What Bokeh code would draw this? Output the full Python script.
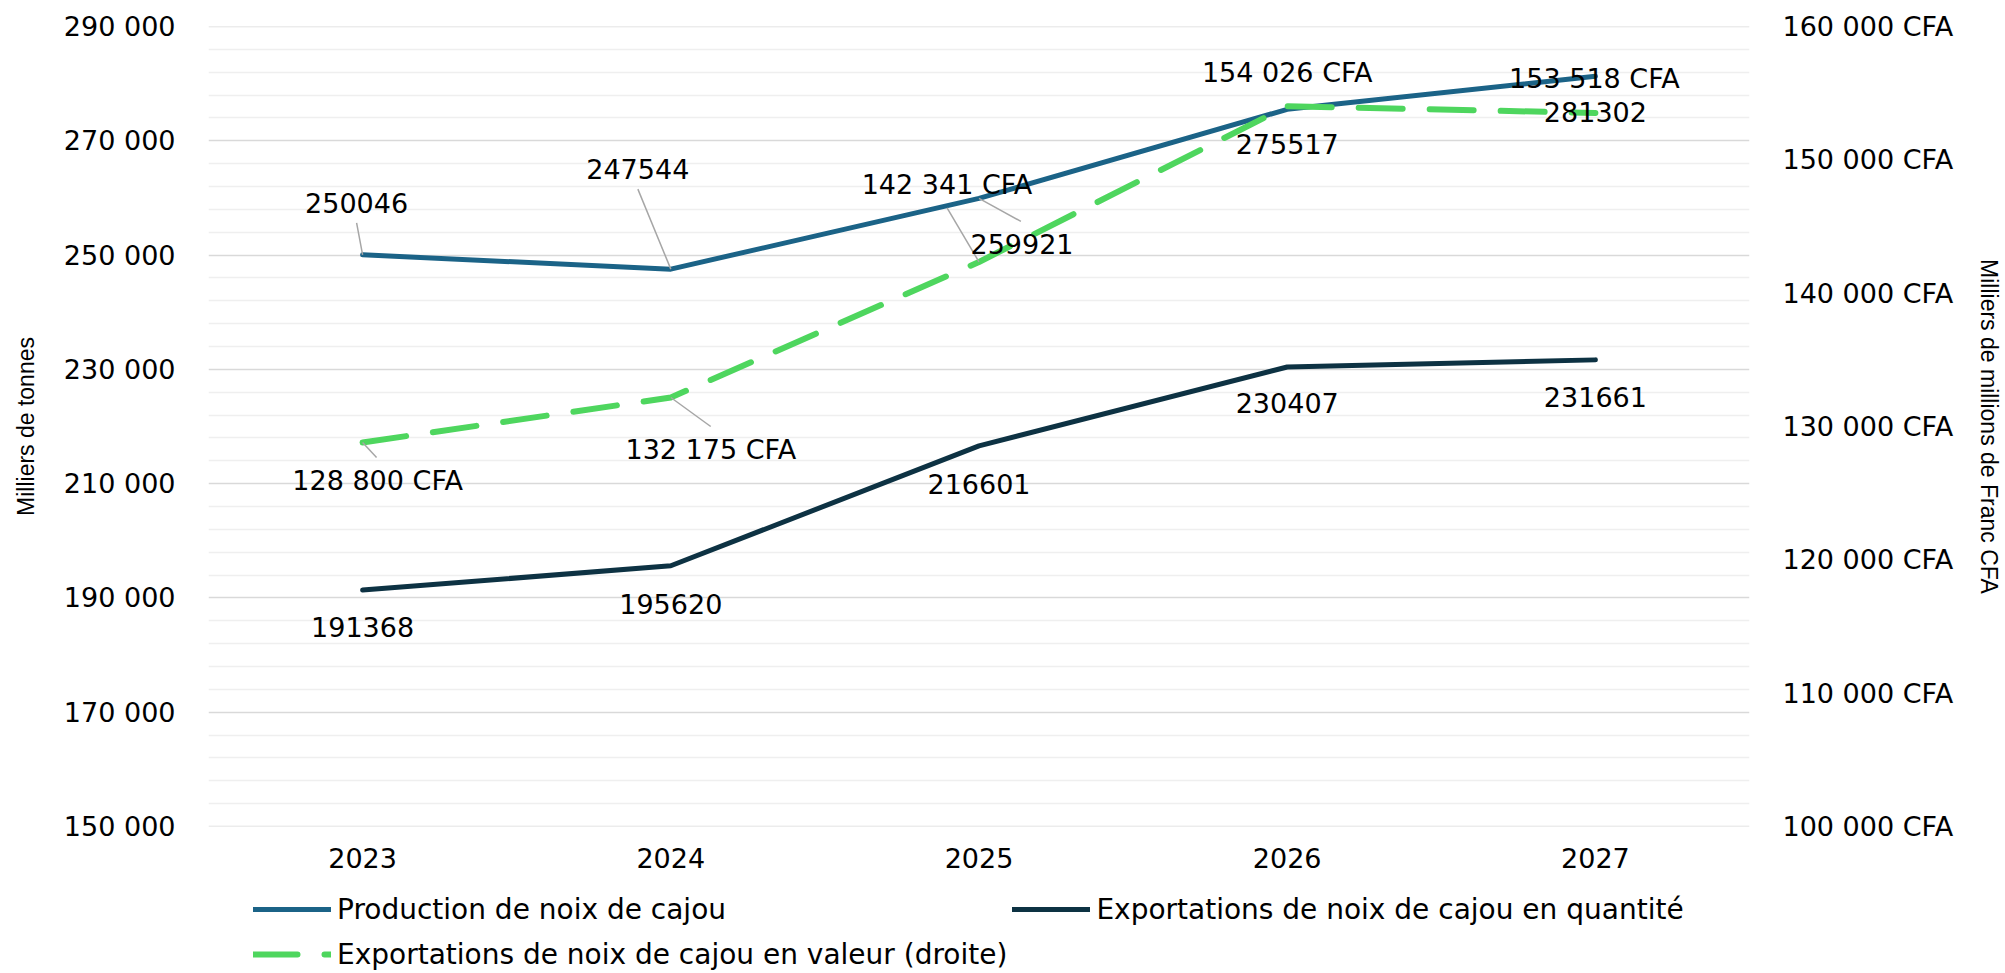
import math
from bokeh.plotting import figure
from bokeh.layouts import column
from bokeh.models import (Range1d, LinearAxis, FixedTicker, ColumnDataSource,
                          Legend, LegendItem)
from bokeh.embed import file_html
from bokeh.resources import INLINE
from bokeh.core.properties import value

# ---------------- data ----------------
years = ["2023", "2024", "2025", "2026", "2027"]
production = [250046, 247544, 259921, 275517, 281302]
export_qty = [191368, 195620, 216601, 230407, 231661]
export_val = [128800, 132175, 142341, 154026, 153518]

left_ticks = [150000, 170000, 190000, 210000, 230000, 250000, 270000, 290000]
left_tick_labels = ["150 000", "170 000", "190 000", "210 000", "230 000",
                    "250 000", "270 000", "290 000"]
right_ticks = [100000, 110000, 120000, 130000, 140000, 150000, 160000]
right_tick_labels = ["100 000 CFA", "110 000 CFA", "120 000 CFA", "130 000 CFA",
                     "140 000 CFA", "150 000 CFA", "160 000 CFA"]

series_names = ["Production de noix de cajou",
                "Exportations de noix de cajou en quantité",
                "Exportations de noix de cajou en valeur (droite)"]
left_title = "Milliers de tonnes"
right_title = "Milliers de millions de Franc CFA"

# ---------------- styles / layout ----------------
W = 2005
H_CHART, H_LEG = 886, 87
MB_L, MB_R, MB_T, MB_B = 208, 253, 26, 60
FRAME_W = W - MB_L - MB_R
FRAME_H = H_CHART - MB_T - MB_B
X_LO, X_HI = -0.5, 4.5
PAD = 10
YL_LO, YL_HI = 150000 - PAD, 290000 + PAD
YR_LO, YR_HI = 100000, 160000

C_PROD = "#1B6387"
C_QTY = "#0D3243"
C_VAL = "#4ED65E"
FONT = "DejaVu Sans"
DASH = "44 27"

# label pixel offsets (screen, +y = down)
prod_off = [(-6, -52), (-33, -100), (43, 46), (0, 35), (0, 36)]
qty_off = [(0, 37), (0, 38), (0, 38), (0, 36), (0, 37)]
val_off = [(15, 38), (40, 52), (-32, -77), (0, -34), (-1, -34)]
# leader line end offsets (pixels from point), None = no leader
prod_lead = [(-6, -32), (-33, -80), (42, 23), None, None]
val_lead = [(14, 15), (40, 29), (-32, -54), None, None]

idx = list(range(len(years)))

p = figure(width=W, height=H_CHART, x_range=Range1d(X_LO, X_HI),
           y_range=Range1d(YL_LO, YL_HI), output_backend="svg",
           toolbar_location=None, min_border_left=MB_L, min_border_right=MB_R,
           min_border_top=MB_T, min_border_bottom=MB_B)
p.outline_line_color = None
p.background_fill_color = "white"
p.border_fill_color = "white"
p.xgrid.visible = False

minor = [v for v in range(150000, 290001, 4000) if v not in left_ticks]
p.ygrid[0].ticker = FixedTicker(ticks=left_ticks, minor_ticks=minor)
p.ygrid.grid_line_color = "#d9d9d9"
p.ygrid.grid_line_width = 1.6
p.ygrid.minor_grid_line_color = "#efefef"
p.ygrid.minor_grid_line_width = 1.6

def style_axis(ax, standoff):
    ax.axis_line_color = None
    ax.major_tick_line_color = None
    ax.minor_tick_line_color = None
    ax.major_tick_out = 0
    ax.major_tick_in = 0
    ax.minor_tick_out = 0
    ax.minor_tick_in = 0
    ax.major_label_standoff = standoff
    ax.major_label_text_font = FONT
    ax.major_label_text_font_size = "27px"
    ax.major_label_text_color = "#000000"
    ax.axis_label_text_font = "Liberation Sans"
    ax.axis_label_text_font_size = "23px"
    ax.axis_label_text_font_style = "normal"
    ax.axis_label_text_color = "#000000"

yax = p.yaxis[0]
yax.ticker = FixedTicker(ticks=left_ticks)
yax.major_label_overrides = {t: l for t, l in zip(left_ticks, left_tick_labels)}
style_axis(yax, 33)
yax.axis_label = left_title
yax.axis_label_standoff = 22

xax = p.xaxis[0]
xax.ticker = FixedTicker(ticks=idx)
xax.major_label_overrides = {i: y for i, y in zip(idx, years)}
style_axis(xax, 21)

p.extra_y_ranges = {"right": Range1d(YR_LO, YR_HI)}
rax = LinearAxis(y_range_name="right", ticker=FixedTicker(ticks=right_ticks),
                 major_label_overrides={t: l for t, l in zip(right_ticks, right_tick_labels)})
style_axis(rax, 33)
rax.axis_label = right_title
rax.axis_label_standoff = 20
p.add_layout(rax, "right")

# ---------------- lines ----------------
line_styles = [dict(line_color=C_PROD, line_width=5),
               dict(line_color=C_QTY, line_width=5),
               dict(line_color=C_VAL, line_width=6, line_dash=DASH)]
r1 = p.line(idx, production, line_cap="round", line_join="round", **line_styles[0])
r2 = p.line(idx, export_qty, line_cap="round", line_join="round", **line_styles[1])
r3 = p.line(idx, export_val, line_cap="round", line_join="round",
            y_range_name="right", **line_styles[2])

# ---------------- leader lines ----------------
px_x = (X_HI - X_LO) / FRAME_W
px_yl = (YL_HI - YL_LO) / FRAME_H
px_yr = (YR_HI - YR_LO) / FRAME_H

def leaders(vals, leads, pxy, range_name):
    x0, y0, x1, y1 = [], [], [], []
    for i, v, l in zip(idx, vals, leads):
        if l is None:
            continue
        x0.append(i); y0.append(v)
        x1.append(i + l[0] * px_x); y1.append(v - l[1] * pxy)
    kw = {} if range_name is None else {"y_range_name": range_name}
    p.segment(x0=x0, y0=y0, x1=x1, y1=y1, line_color="#a6a6a6",
              line_width=1.5, **kw)

leaders(production, prod_lead, px_yl, None)
leaders(export_val, val_lead, px_yr, "right")

# ---------------- data labels ----------------
def fmt_cfa(v):
    return f"{v:,}".replace(",", " ") + " CFA"

def labels(vals, texts, offs, range_name=None):
    src = ColumnDataSource(dict(x=idx, y=vals, t=texts,
                                xo=[o[0] for o in offs], yo=[o[1] for o in offs]))
    kw = {} if range_name is None else {"y_range_name": range_name}
    p.text(x="x", y="y", text="t", x_offset="xo", y_offset="yo", source=src,
           text_font=value(FONT), text_font_size="27px", text_color="#000000",
           text_align="center", text_baseline="middle", **kw)

labels(production, [str(v) for v in production], prod_off)
labels(export_qty, [str(v) for v in export_qty], qty_off)
labels(export_val, [fmt_cfa(v) for v in export_val], val_off, "right")

# ---------------- legend strip (own figure, same series) ----------------
q = figure(width=W, height=H_LEG, x_range=Range1d(X_LO, X_HI),
           y_range=Range1d(0, 1), output_backend="svg", toolbar_location=None,
           x_axis_type=None, y_axis_type=None, min_border=0)
q.outline_line_color = None
q.grid.visible = False
q.background_fill_color = "white"
q.border_fill_color = "white"
# series are drawn off the strip's visible range; only their legend swatches show
l1 = q.line(idx, production, line_cap="round", **line_styles[0])
l2 = q.line(idx, export_qty, line_cap="round", **line_styles[1])
l3 = q.line(idx, export_val, line_cap="round", **line_styles[2])

legend = Legend(items=[LegendItem(label=series_names[0], renderers=[l1]),
                       LegendItem(label=series_names[1], renderers=[l2]),
                       LegendItem(label=series_names[2], renderers=[l3])],
                location=(45, -1), orientation="horizontal", ncols=2,
                glyph_width=78, glyph_height=40, label_height=40,
                label_standoff=6, spacing=5, padding=0, margin=0,
                border_line_color=None, background_fill_alpha=0,
                label_text_font=FONT, label_text_font_size="28px",
                label_text_color="#000000")
q.add_layout(legend)

page = column(p, q, spacing=0)
open("out.html", "w").write(file_html(page, INLINE))
